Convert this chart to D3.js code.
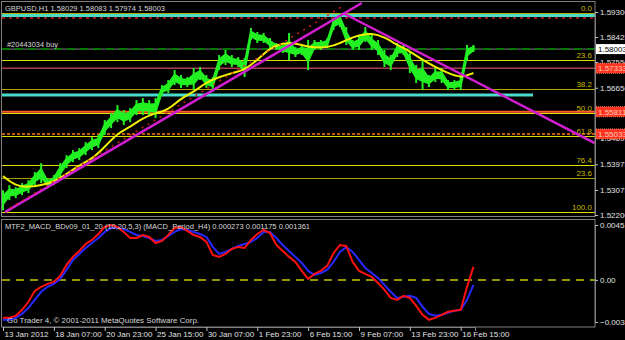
<!DOCTYPE html>
<html>
<head>
<meta charset="utf-8">
<script src="https://cdnjs.cloudflare.com/ajax/libs/d3/7.8.5/d3.min.js"></script>
<style>
body { margin: 0; background: #000; }
svg { display: block; }
text { font-family: "Liberation Sans Narrow", "Liberation Sans", Arial, sans-serif; font-size: 8px; }
</style>
</head>
<body>
<svg class="chart"></svg>
<script>
var W = 625, H = 340;

// hourly bars, one sample every 8 bars
var barStep = 8;
var priceHi = [1.5307, 1.53245, 1.53175, 1.53315, 1.5342, 1.537, 1.54015, 1.5349, 1.53595, 1.54015,
  1.54295, 1.5447, 1.5454, 1.5475, 1.54925, 1.54995, 1.5552, 1.55765, 1.56045, 1.5587,
  1.5594, 1.5622, 1.5629, 1.5622, 1.5629, 1.56745, 1.5692, 1.5727, 1.57095, 1.57025,
  1.5734, 1.57375, 1.57095, 1.57025, 1.57795, 1.5797, 1.57795, 1.57725, 1.5769, 1.5874,
  1.586, 1.58565, 1.5839, 1.58215, 1.58145, 1.58565, 1.58075, 1.58145, 1.5832, 1.5832,
  1.5832, 1.5839, 1.5909, 1.59265, 1.58775, 1.5832, 1.58495, 1.58775, 1.58495, 1.5832,
  1.5797, 1.57795, 1.58215, 1.58145, 1.579, 1.57445, 1.5762, 1.57095, 1.5734, 1.5734,
  1.5692, 1.5692, 1.57025, 1.58145, 1.58145];
var priceLo = [1.5237, 1.5272, 1.5279, 1.52895, 1.52965, 1.53245, 1.53315, 1.5314, 1.53245, 1.5349,
  1.5384, 1.5405, 1.5412, 1.54295, 1.5447, 1.5454, 1.54995, 1.5524, 1.5545, 1.55345,
  1.5545, 1.55695, 1.55695, 1.55695, 1.5559, 1.56395, 1.56465, 1.56745, 1.5664, 1.56675,
  1.5657, 1.5692, 1.5664, 1.5657, 1.5727, 1.57445, 1.57375, 1.57375, 1.57025, 1.5832,
  1.58215, 1.58215, 1.5804, 1.5797, 1.57865, 1.5762, 1.57725, 1.57795, 1.5727, 1.5797,
  1.5797, 1.5804, 1.5867, 1.58775, 1.58145, 1.5797, 1.5797, 1.5825, 1.5797, 1.57795,
  1.57375, 1.5727, 1.57725, 1.57795, 1.57165, 1.56815, 1.5657, 1.56675, 1.5685, 1.56815,
  1.5657, 1.5657, 1.5657, 1.5762, 1.579];

// moving average, one value every 16 bars
var maStep = 16;
var maVals = [1.5356, 1.5321, 1.53175, 1.53245, 1.5335, 1.5363, 1.53945, 1.54155, 1.54575, 1.55065,
  1.55275, 1.5559, 1.55765, 1.5587, 1.5629, 1.565, 1.5685, 1.57025, 1.57165, 1.5727,
  1.5762, 1.5804, 1.58215, 1.58215, 1.58075, 1.5804, 1.5811, 1.5832, 1.58495, 1.58565,
  1.58425, 1.58145, 1.57935, 1.5762, 1.57375, 1.57165, 1.5699, 1.57165];

// MTF MACD, one value every 8 bars
var macdMain = [-0.00312, -0.00312, -0.00295, -0.00246, -0.0018, -0.0009, -0.00057, -0.00033, -0.00016, 0.00033,
  0.00123, 0.00189, 0.00238, 0.00295, 0.00328, 0.00377, 0.00435, 0.00451, 0.00435, 0.00394,
  0.00344, 0.00344, 0.00369, 0.00353, 0.00303, 0.0032, 0.00369, 0.00426, 0.00435, 0.00402,
  0.00369, 0.00353, 0.00312, 0.00205, 0.00189, 0.00213, 0.00254, 0.00271, 0.00262, 0.00328,
  0.00377, 0.0041, 0.00385, 0.00287, 0.00238, 0.00189, 0.00148, 0.00074, 0.00008, 0.00049,
  0.00074, 0.00115, 0.00221, 0.00287, 0.00279, 0.00148, 0.00074, 0.00049, 0.00025, -0.00025,
  -0.00082, -0.00148, -0.00164, -0.00131, -0.00148, -0.00213, -0.00287, -0.00328, -0.00312, -0.00287,
  -0.00262, -0.00254, -0.00246, -0.00057, 0.00107];
var macdSignal = [-0.00328, -0.00328, -0.00312, -0.00279, -0.0023, -0.00164, -0.00098, -0.00057, -0.00033, 0.00008,
  0.00082, 0.00164, 0.00213, 0.00262, 0.00303, 0.00344, 0.00394, 0.00426, 0.00426, 0.00418,
  0.00394, 0.00369, 0.00361, 0.00344, 0.0032, 0.00328, 0.00361, 0.00394, 0.00418, 0.0041,
  0.00394, 0.00377, 0.00353, 0.00271, 0.00213, 0.0023, 0.00254, 0.00279, 0.00295, 0.00312,
  0.00344, 0.00394, 0.00394, 0.00344, 0.00287, 0.00238, 0.00189, 0.00139, 0.00074, 0.00041,
  0.00057, 0.00082, 0.00148, 0.0023, 0.00271, 0.0023, 0.00164, 0.00098, 0.00057, 0.00016,
  -0.00041, -0.00098, -0.00148, -0.00139, -0.00131, -0.00148, -0.00221, -0.00279, -0.00295, -0.00287,
  -0.00271, -0.00254, -0.00246, -0.00164, -0.00041];

var timeTicks = [0, 64, 128, 192, 256, 320, 384, 448, 512, 576];
var timeLabels = ["13 Jan 2012", "18 Jan 07:00", "20 Jan 23:00", "25 Jan 15:00", "30 Jan 07:00",
  "1 Feb 23:00", "6 Feb 15:00", "9 Feb 07:00", "13 Feb 23:00", "16 Feb 15:00"];
var priceTicks = [1.593, 1.58425, 1.5755, 1.5665, 1.55775, 1.54895, 1.53975, 1.53075, 1.522];
var macdTicks = [0.00451, 0, -0.00346];

// fibonacci
var fibTop = 1.59265, fibBottom = 1.5230;
var fibLevels = [0, 23.6, 38.2, 50, 61.8, 76.4, 100];
var fib2Levels = [23.6];
var fib2Prices = [1.5349];

// horizontal objects
var hLinePrices = [1.5918, 1.5909, 1.58003, 1.5801, 1.57333, 1.564, 1.55811, 1.55033];
var hLineEnds = [null, null, null, null, null, 667, null, null];
var redLabels = [1.57333, 1.55811, 1.55033];
var bid = 1.58003;

// trend lines: [bar, bar], [price, price]
var trendBars = [[2.5, 451.6], [427.7, 744.7], [8.8, 430]];
var trendPrices = [[1.523, 1.59615], [1.59265, 1.54715], [1.5244, 1.59545]];

var title = "GBPUSD,H1  1.58029 1.58083 1.57974 1.58003";
var orderText = "#20443034 buy";
var macdTitle = "MTF2_MACD_BDv09_01_20 (10,20,5,3)  (MACD_Period_H4) 0.000273 0.001175 0.001361";
var copyText = "Go Trader 4, \u00a9 2001-2011 MetaQuotes Software Corp.";

var x = d3.scaleLinear().domain([0, 594]).range([3, 475]);
var y = d3.scaleLinear().domain([1.522, 1.593]).range([215, 12]);
var ym = d3.scaleLinear().domain([-0.00346, 0.00451]).range([322, 225]);

var svg = d3.select(".chart").attr("width", W).attr("height", H);
svg.append("rect").attr("width", W).attr("height", H).attr("fill", "#000");

var defs = svg.append("defs");
defs.append("clipPath").attr("id", "clipMain").append("rect")
  .attr("x", 2).attr("y", 2).attr("width", 593).attr("height", 214);
defs.append("clipPath").attr("id", "clipMacd").append("rect")
  .attr("x", 2).attr("y", 220).attr("width", 593).attr("height", 107);

var main = svg.append("g").attr("clip-path", "url(#clipMain)");
var macd = svg.append("g").attr("clip-path", "url(#clipMacd)");

// styles for horizontal lines (same order as hLinePrices)
var hStyles = [
  {c: "#4adcca", w: 3, d: null},
  {c: "#c81e1e", w: 1.5, d: "3,4"},
  {c: "#7a7a7a", w: 1, d: null},
  {c: "#007a00", w: 2, d: "8,5"},
  {c: "#a8404e", w: 1.5, d: null},
  {c: "#4adcca", w: 3, d: null},
  {c: "#ff5a28", w: 2, d: null},
  {c: "#ff7a10", w: 1.5, d: "3,2"}
];

main.selectAll(".hline").data(hLinePrices).enter().append("line")
  .attr("class", "hline")
  .attr("x1", 2)
  .attr("x2", function(d, i) { return hLineEnds[i] == null ? 595 : x(hLineEnds[i]); })
  .attr("y1", function(d) { return y(d); })
  .attr("y2", function(d) { return y(d); })
  .attr("stroke", function(d, i) { return hStyles[i].c; })
  .attr("stroke-width", function(d, i) { return hStyles[i].w; })
  .attr("stroke-dasharray", function(d, i) { return hStyles[i].d; });

function fibPrice(l) { return fibTop - l / 100 * (fibTop - fibBottom); }

main.selectAll(".fib").data(fibLevels).enter().append("line")
  .attr("class", "fib")
  .attr("x1", 2).attr("x2", 595)
  .attr("y1", function(d) { return Math.round(y(fibPrice(d))) + 0.5; })
  .attr("y2", function(d) { return Math.round(y(fibPrice(d))) + 0.5; })
  .attr("stroke", function(d) { return d == 38.2 || d == 0 ? "#b4a800" : "#e0dc00"; })
  .attr("stroke-width", 1);
main.selectAll(".fibt").data(fibLevels).enter().append("text")
  .attr("class", "fibt")
  .attr("x", 592).attr("text-anchor", "end")
  .attr("y", function(d) { return y(fibPrice(d)) - 2; })
  .attr("fill", "#c8b800")
  .text(function(d) { return d.toFixed(1); });

main.selectAll(".fib2").data(fib2Prices).enter().append("line")
  .attr("x1", 2).attr("x2", 595)
  .attr("y1", function(d) { return Math.round(y(d)) + 0.5; })
  .attr("y2", function(d) { return Math.round(y(d)) + 0.5; })
  .attr("stroke", "#a8a000").attr("stroke-width", 1);
main.selectAll(".fib2t").data(fib2Prices).enter().append("text")
  .attr("x", 592).attr("text-anchor", "end")
  .attr("y", function(d) { return y(d) - 2; })
  .attr("fill", "#c8b800")
  .text(function(d, i) { return fib2Levels[i].toFixed(1); });

// price bars: a thin band inside the high-low range, plus full sticks
var band = d3.area()
  .x(function(d, i) { return x(i * barStep); })
  .y0(function(d, i) { return y(priceLo[i] + (d - priceLo[i]) * 0.3); })
  .y1(function(d, i) { return y(d - (d - priceLo[i]) * 0.3); });
main.append("path").datum(priceHi).attr("d", band)
  .attr("fill", "#22f022").attr("stroke", "#22f022").attr("stroke-width", 2);
main.selectAll(".bar").data(priceHi).enter().append("line")
  .attr("class", "bar")
  .attr("x1", function(d, i) { return x(i * barStep); })
  .attr("x2", function(d, i) { return x(i * barStep); })
  .attr("y1", function(d) { return y(d); })
  .attr("y2", function(d, i) { return y(priceLo[i]); })
  .attr("stroke", "#22f022").attr("stroke-width", 2);

// moving average
var maLine = d3.line()
  .x(function(d, i) { return x(i * maStep); })
  .y(function(d) { return y(d); })
  .curve(d3.curveBasis);
main.append("path").datum(maVals).attr("d", maLine)
  .attr("fill", "none").attr("stroke", "#f0f000").attr("stroke-width", 2);

// trend lines
main.selectAll(".trend").data(trendBars).enter().append("line")
  .attr("x1", function(d) { return x(d[0]); })
  .attr("x2", function(d) { return x(d[1]); })
  .attr("y1", function(d, i) { return y(trendPrices[i][0]); })
  .attr("y2", function(d, i) { return y(trendPrices[i][1]); })
  .attr("stroke", function(d, i) { return i == 2 ? "#d02020" : "#d01ed0"; })
  .attr("stroke-width", function(d, i) { return i == 2 ? 1.5 : 2.5; })
  .attr("stroke-dasharray", function(d, i) { return i == 2 ? "2,5" : null; });

// MACD panel
macd.append("line")
  .attr("x1", 2).attr("x2", 595)
  .attr("y1", ym(0)).attr("y2", ym(0))
  .attr("stroke", "#c8c800").attr("stroke-width", 1.5).attr("stroke-dasharray", "8,6");

var macdLine = d3.line()
  .x(function(d, i) { return x(i * barStep); })
  .y(function(d) { return ym(d); });
macd.append("path").datum(macdSignal).attr("d", macdLine)
  .attr("fill", "none").attr("stroke", "#2828ff").attr("stroke-width", 2);
macd.append("path").datum(macdMain).attr("d", macdLine)
  .attr("fill", "none").attr("stroke", "#ff1010").attr("stroke-width", 2);

// frames
svg.append("rect").attr("x", 1.5).attr("y", 1.5).attr("width", 593.5).attr("height", 215)
  .attr("fill", "none").attr("stroke", "#808080");
svg.append("rect").attr("x", 1.5).attr("y", 219.5).attr("width", 593.5).attr("height", 107.5)
  .attr("fill", "none").attr("stroke", "#808080");

// axes
var yAxis = svg.append("g").attr("transform", "translate(595,0)")
  .call(d3.axisRight(y).tickValues(priceTicks).tickFormat(d3.format(".5f")).tickSize(3).tickPadding(2));
var mAxis = svg.append("g").attr("transform", "translate(595,0)")
  .call(d3.axisRight(ym).tickValues(macdTicks)
    .tickFormat(function(d) { return d == 0 ? "0.00" : d3.format(".5f")(d); })
    .tickSize(3).tickPadding(2));
var xAxis = svg.append("g").attr("transform", "translate(0,327)")
  .call(d3.axisBottom(x).tickValues(timeTicks).tickFormat(function(d, i) { return timeLabels[i]; }).tickSize(4));
xAxis.selectAll("text").attr("text-anchor", "start").attr("dx", 1).attr("dy", 0).attr("y", 10);
[yAxis, mAxis, xAxis].forEach(function(g) {
  g.selectAll(".domain").attr("stroke", "#808080");
  g.selectAll(".tick line").attr("stroke", "#c0c0c0");
  g.selectAll("text").attr("fill", "#e0e0e0").attr("font-size", 8)
    .attr("font-family", "'Liberation Sans Narrow','Liberation Sans',Arial,sans-serif");
});

// price labels on the scale
var rl = svg.selectAll(".rl").data(redLabels).enter().append("g")
  .attr("transform", function(d) { return "translate(596," + y(d) + ")"; });
rl.append("rect").attr("x", 0).attr("y", -5).attr("width", 30).attr("height", 10)
  .attr("fill", "#ff3420").attr("stroke", "#ff8060").attr("stroke-dasharray", "1,1");
rl.append("text").attr("x", 2).attr("y", 3).attr("fill", "#ffc8b8")
  .text(function(d) { return d.toFixed(5); });

var bl = svg.append("g").attr("transform", "translate(596," + y(bid) + ")");
bl.append("rect").attr("x", 0).attr("y", -5).attr("width", 30).attr("height", 10).attr("fill", "#ffffff");
bl.append("text").attr("x", 2).attr("y", 3).attr("fill", "#000").text(bid.toFixed(5));

// texts
svg.append("text").attr("x", 5).attr("y", 11).attr("fill", "#d8d8d8")
  .attr("textLength", 160).attr("lengthAdjust", "spacingAndGlyphs").text(title);
svg.append("text").attr("x", 7).attr("y", 46.5).attr("fill", "#d8d8d8")
  .attr("textLength", 51).attr("lengthAdjust", "spacingAndGlyphs").text(orderText);
svg.append("text").attr("x", 5).attr("y", 229).attr("fill", "#d8d8d8")
  .attr("textLength", 305).attr("lengthAdjust", "spacingAndGlyphs").text(macdTitle);
svg.append("text").attr("x", 7).attr("y", 323).attr("fill", "#d8d8d8")
  .attr("textLength", 192).attr("lengthAdjust", "spacingAndGlyphs").text(copyText);
</script>
</body>
</html>
